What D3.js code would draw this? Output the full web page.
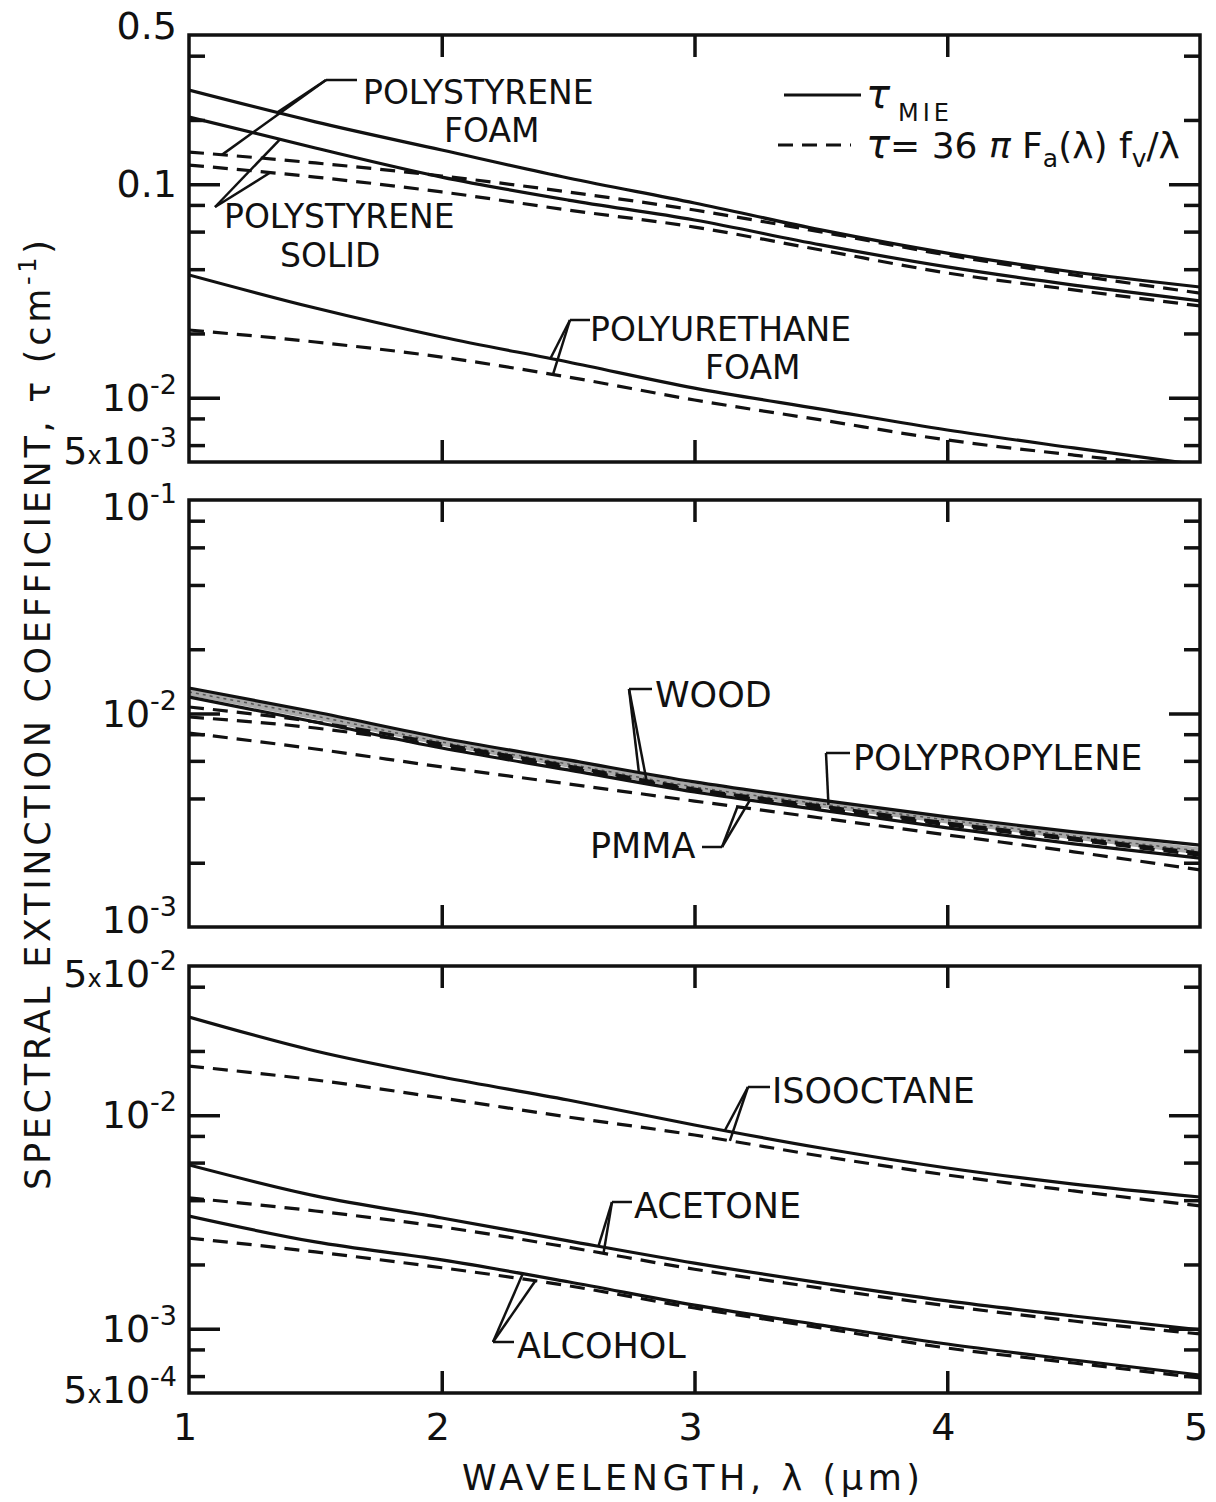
<!DOCTYPE html>
<html>
<head>
<meta charset="utf-8">
<script src="https://cdn.jsdelivr.net/npm/d3@7"></script>
<style>
  body { margin: 0; background: #fff; }
  text { font-family: "DejaVu Sans", sans-serif; fill: #111; }
</style>
</head>
<body>
<div id="chart"></div>
<script>
// Wavelength grid (micrometres)
const lambda = [1, 1.5, 2, 2.5, 3, 3.5, 4, 4.5, 5];

// Top panel
const psFoamMie     = [0.276, 0.196, 0.1446, 0.107, 0.0817, 0.0611, 0.0476, 0.0388, 0.0330];
const psFoamApprox  = [0.1415, 0.1258, 0.1093, 0.092, 0.0757, 0.0598, 0.0466, 0.0376, 0.0309];
const psSolidMie    = [0.2065, 0.1478, 0.108, 0.0843, 0.068, 0.052, 0.041, 0.0337, 0.0284];
const psSolidApprox = [0.123, 0.108, 0.092, 0.0757, 0.063, 0.0492, 0.0384, 0.032, 0.0269];
const puFoamMie     = [0.0376, 0.0263, 0.01925, 0.0147, 0.0111, 0.00885, 0.00706, 0.00582, 0.00484];
const puFoamApprox  = [0.02076, 0.01824, 0.0155, 0.0125, 0.00976, 0.00787, 0.00634, 0.00539, 0.00469];

// Middle panel
const woodMie    = [0.01317, 0.01016, 0.00768, 0.00606, 0.00478, 0.00393, 0.00328, 0.00279, 0.00242];
const woodApprox = [0.01073, 0.00912, 0.00720, 0.00568, 0.00443, 0.00369, 0.00307, 0.00261, 0.00222];
const ppMie      = [0.01261, 0.00973, 0.00735, 0.00580, 0.00453, 0.00377, 0.00317, 0.00267, 0.00227];
const ppApprox   = [0.00963, 0.00855, 0.00704, 0.00556, 0.00438, 0.00361, 0.00301, 0.00256, 0.00217];
const pmmaMie    = [0.01195, 0.00912, 0.00689, 0.00544, 0.00429, 0.00353, 0.00291, 0.00245, 0.00210];
const pmmaApprox = [0.00810, 0.00682, 0.00562, 0.00468, 0.00389, 0.00324, 0.00270, 0.00225, 0.00185];

// Bottom panel
const isoMie        = [0.02884, 0.01999, 0.0151, 0.01178, 0.0090, 0.00702, 0.00566, 0.00476, 0.00414];
const isoApprox     = [0.0170, 0.01462, 0.01204, 0.00981, 0.00808, 0.00644, 0.00525, 0.00442, 0.00376];
const acetoneMie    = [0.00585, 0.00419, 0.0033, 0.00258, 0.00203, 0.00164, 0.00135, 0.001147, 0.000987];
const acetoneApprox = [0.0041, 0.00356, 0.0030, 0.00241, 0.0019, 0.00155, 0.00128, 0.001087, 0.000945];
const alcoholMie    = [0.00337, 0.00255, 0.0021, 0.00166, 0.00129, 0.00104, 0.000848, 0.000714, 0.000607];
const alcoholApprox = [0.00266, 0.00229, 0.00193, 0.00159, 0.00125, 0.00101, 0.000812, 0.000691, 0.000588];

// Axis domains and tick labels
const yDomains = [[0.005, 0.5], [0.001, 0.1], [0.0005, 0.05]];
const yLabelValues = [[0.5, 0.1, 0.01, 0.005], [0.1, 0.01, 0.001], [0.05, 0.01, 0.001, 0.0005]];
const yLabelMult = [["", "", "", "5"], ["", "", ""], ["5", "", "", "5"]];
const yLabelBase = [["0.5", "0.1", "10", "10"], ["10", "10", "10"], ["10", "10", "10", "10"]];
const yLabelExp  = [["", "", "-2", "-3"], ["-1", "-2", "-3"], ["-2", "-2", "-3", "-4"]];
const xTickValues = [1, 2, 3, 4, 5];

const width = 1216, height = 1502;
const left = 189, right = 1200, panelH = 427;
const panelTops = [35, 500, 966];
// baseline offset of each y tick label from its tick
const yLabelShift = [[4, 13, 13, 2], [20, 13, 6], [21, 13, 13, 10]];

const svg = d3.select("#chart").append("svg")
    .attr("width", width)
    .attr("height", height);

const x = d3.scaleLinear().domain([1, 5]).range([left, right]);

// log-linear interpolation of a series at wavelength l
function valueAt(series, l) {
    const i = Math.min(lambda.length - 2, Math.max(0, d3.bisectRight(lambda, l) - 1));
    const t = (l - lambda[i]) / (lambda[i + 1] - lambda[i]);
    return Math.exp(Math.log(series[i]) * (1 - t) + Math.log(series[i + 1]) * t);
}

const panels = panelTops.map((top, i) => ({
    top: top,
    y: d3.scaleLog().domain(yDomains[i]).range([top + panelH, top])
}));

// series per panel with style
const series = [
    [
        {v: psFoamMie, dash: null}, {v: psFoamApprox, dash: "15,9"},
        {v: psSolidMie, dash: null}, {v: psSolidApprox, dash: "15,9"},
        {v: puFoamMie, dash: null}, {v: puFoamApprox, dash: "15,9"}
    ],
    [
        {v: ppMie, dash: null, band: true},
        {v: woodMie, dash: null}, {v: woodApprox, dash: "15,9"},
        {v: ppApprox, dash: "15,9"},
        {v: pmmaMie, dash: null}, {v: pmmaApprox, dash: "15,9"}
    ],
    [
        {v: isoMie, dash: null}, {v: isoApprox, dash: "15,9"},
        {v: acetoneMie, dash: null}, {v: acetoneApprox, dash: "15,9"},
        {v: alcoholMie, dash: null}, {v: alcoholApprox, dash: "15,9"}
    ]
];

panels.forEach((p, i) => {
    const g = svg.append("g");
    const y = p.y;

    // clip to frame
    svg.append("clipPath").attr("id", "clip" + i)
        .append("rect")
        .attr("x", left).attr("y", p.top)
        .attr("width", right - left).attr("height", panelH);

    const line = d3.line()
        .x((d, k) => x(lambda[k]))
        .y(d => y(d))
        .curve(d3.curveMonotoneX);

    const curves = g.append("g").attr("clip-path", `url(#clip${i})`);
    series[i].forEach(s => {
        if (s.band) {
            curves.append("path").attr("d", line(s.v))
                .attr("fill", "none").attr("stroke", "#a9a9a9").attr("stroke-width", 7);
            curves.append("path").attr("d", line(s.v))
                .attr("fill", "none").attr("stroke", "#555").attr("stroke-width", 1.5)
                .attr("stroke-dasharray", "3,4");
        } else {
            curves.append("path").attr("d", line(s.v))
                .attr("fill", "none")
                .attr("stroke", "#111")
                .attr("stroke-width", 3.2)
                .attr("stroke-dasharray", s.dash);
        }
    });

    // y ticks: long at decades, short at 2,4,6,8
    const [lo, hi] = yDomains[i];
    const all = y.ticks().filter(t => t > lo * 1.001 && t < hi * 0.999);
    const mant = t => Math.round(t / Math.pow(10, Math.floor(Math.log10(t) + 1e-9)));
    const major = all.filter(t => mant(t) === 1);
    const minor = all.filter(t => [2, 4, 6, 8].includes(mant(t)));

    const tickStyle = sel => {
        sel.select(".domain").remove();
        sel.selectAll("line").attr("stroke", "#111").attr("stroke-width", 3.5);
    };
    g.append("g").attr("transform", `translate(${left},0)`)
        .call(d3.axisLeft(y).tickValues(minor).tickSize(-16).tickFormat(""))
        .call(tickStyle);
    g.append("g").attr("transform", `translate(${left},0)`)
        .call(d3.axisLeft(y).tickValues(major).tickSize(-31).tickFormat(""))
        .call(tickStyle);
    g.append("g").attr("transform", `translate(${right},0)`)
        .call(d3.axisRight(y).tickValues(minor).tickSize(-16).tickFormat(""))
        .call(tickStyle);
    g.append("g").attr("transform", `translate(${right},0)`)
        .call(d3.axisRight(y).tickValues(major).tickSize(-31).tickFormat(""))
        .call(tickStyle);

    // x ticks top and bottom
    g.append("g").attr("transform", `translate(0,${p.top + panelH})`)
        .call(d3.axisBottom(x).tickValues([2, 3, 4]).tickSize(-22).tickFormat(""))
        .call(tickStyle);
    g.append("g").attr("transform", `translate(0,${p.top})`)
        .call(d3.axisTop(x).tickValues([2, 3, 4]).tickSize(-22).tickFormat(""))
        .call(tickStyle);

    // frame
    g.append("rect")
        .attr("x", left).attr("y", p.top)
        .attr("width", right - left).attr("height", panelH)
        .attr("fill", "none").attr("stroke", "#111").attr("stroke-width", 3.5);

    // y tick labels
    yLabelValues[i].forEach((v, k) => {
        const t = g.append("text")
            .attr("x", left - 12)
            .attr("y", y(v) + yLabelShift[i][k])
            .attr("text-anchor", "end")
            .style("font-size", "38px");
        if (yLabelMult[i][k]) {
            t.append("tspan").text(yLabelMult[i][k]);
            t.append("tspan").style("font-size", "24px").text("x");
        }
        t.append("tspan").text(yLabelBase[i][k]);
        const exp = yLabelExp[i][k];
        if (exp) {
            t.append("tspan").attr("dy", -17).style("font-size", "27px").text(exp);
        }
    });
});

// x tick labels under the bottom panel
svg.append("g").selectAll("text")
    .data(xTickValues)
    .enter().append("text")
    .attr("x", d => x(d) - 4)
    .attr("y", 1440)
    .attr("text-anchor", "middle")
    .style("font-size", "38px")
    .text(d => d);

// axis titles
svg.append("text")
    .attr("x", 691).attr("y", 1490)
    .attr("text-anchor", "middle")
    .attr("textLength", 458)
    .attr("lengthAdjust", "spacing")
    .style("font-size", "35px")
    .text("WAVELENGTH, λ (μm)");

const yTitle = svg.append("text")
    .attr("transform", "translate(50,715) rotate(-90)")
    .attr("text-anchor", "middle")
    .attr("textLength", 950)
    .attr("lengthAdjust", "spacing")
    .style("font-size", "35px");
yTitle.append("tspan").text("SPECTRAL  EXTINCTION  COEFFICIENT,  τ  (cm");
yTitle.append("tspan").attr("dy", -14).style("font-size", "24px").text("-1");
yTitle.append("tspan").attr("dy", 14).text(")");

// curve annotations with leader lines
const notes = [
    {p: 0, size: 33, text: [["POLYSTYRENE", 363, 104], ["FOAM", 444, 142]], vertex: [326, 80], foot: [357, 80],
     ends: [[psFoamMie, 1.35], [psFoamApprox, 1.13]]},
    {p: 0, size: 33, text: [["POLYSTYRENE", 224, 228], ["SOLID", 280, 267]], vertex: [215, 207], foot: null,
     ends: [[psSolidMie, 1.36], [psSolidApprox, 1.32]]},
    {p: 0, size: 33, text: [["POLYURETHANE", 590, 341], ["FOAM", 705, 379]], vertex: [570, 320], foot: [590, 320],
     ends: [[puFoamMie, 2.43], [puFoamApprox, 2.44]]},
    {p: 1, size: 35, text: [["WOOD", 655, 707]], vertex: [629, 689], foot: [652, 689],
     ends: [[woodMie, 2.78], [woodApprox, 2.81]]},
    {p: 1, size: 35, text: [["POLYPROPYLENE", 853, 770]], vertex: [826, 753], foot: [850, 753],
     ends: [[ppMie, 3.53]]},
    {p: 1, size: 35, text: [["PMMA", 590, 858]], vertex: [722, 847], foot: [702, 847],
     ends: [[pmmaMie, 3.22], [pmmaApprox, 3.17]]},
    {p: 2, size: 35, text: [["ISOOCTANE", 772, 1103]], vertex: [748, 1087], foot: [770, 1087],
     ends: [[isoMie, 3.12], [isoApprox, 3.14]]},
    {p: 2, size: 35, text: [["ACETONE", 634, 1218]], vertex: [612, 1202], foot: [632, 1202],
     ends: [[acetoneMie, 2.62], [acetoneApprox, 2.64]]},
    {p: 2, size: 35, text: [["ALCOHOL", 517, 1358]], vertex: [493, 1342], foot: [514, 1342],
     ends: [[alcoholMie, 2.32], [alcoholApprox, 2.37]]}
];

const ann = svg.append("g");
notes.forEach(n => {
    const y = panels[n.p].y;
    n.text.forEach(([s, tx, ty]) => {
        ann.append("text").attr("x", tx).attr("y", ty)
            .style("font-size", n.size + "px").text(s);
    });
    if (n.foot) {
        ann.append("line")
            .attr("x1", n.vertex[0]).attr("y1", n.vertex[1])
            .attr("x2", n.foot[0]).attr("y2", n.foot[1])
            .attr("stroke", "#111").attr("stroke-width", 2.5);
    }
    n.ends.forEach(([s, l]) => {
        ann.append("line")
            .attr("x1", n.vertex[0]).attr("y1", n.vertex[1])
            .attr("x2", x(l)).attr("y2", y(valueAt(s, l)))
            .attr("stroke", "#111").attr("stroke-width", 2.5);
    });
});

// legend
const lg = svg.append("g");
lg.append("line").attr("x1", 784).attr("x2", 861).attr("y1", 95).attr("y2", 95)
    .attr("stroke", "#111").attr("stroke-width", 3.2);
lg.append("text").attr("x", 866).attr("y", 108).style("font-size", "40px").style("font-style", "italic").text("τ");
lg.append("text").attr("x", 898).attr("y", 121).style("font-size", "24px").attr("letter-spacing", 4).text("MIE");
lg.append("line").attr("x1", 778).attr("x2", 851).attr("y1", 145).attr("y2", 145)
    .attr("stroke", "#111").attr("stroke-width", 3.2).attr("stroke-dasharray", "15,9");
const lt = lg.append("text").attr("x", 866).attr("y", 158).style("font-size", "36px");
lt.append("tspan").style("font-style", "italic").style("font-size", "40px").text("τ");
lt.append("tspan").text("= 36 ");
lt.append("tspan").style("font-style", "italic").text("π");
lt.append("tspan").text(" F");
lt.append("tspan").attr("dy", 9).style("font-size", "25px").text("a");
lt.append("tspan").attr("dy", -9).text("(λ) f");
lt.append("tspan").attr("dy", 9).style("font-size", "25px").text("v");
lt.append("tspan").attr("dy", -9).text("/λ");
</script>
</body>
</html>
